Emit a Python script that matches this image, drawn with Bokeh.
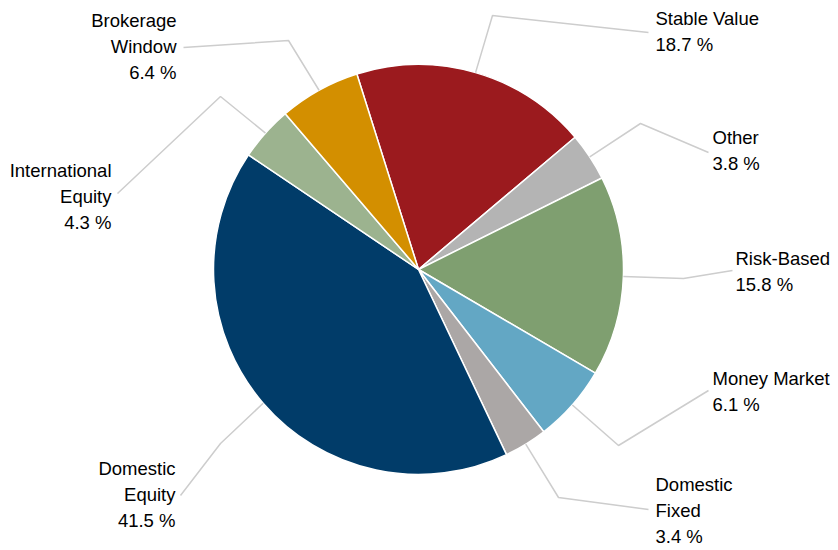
import numpy as np
from bokeh.plotting import figure
from bokeh.models import Range1d, ColumnDataSource
from bokeh.core.properties import value
from bokeh.embed import file_html
from bokeh.resources import INLINE

# ---- data ----
categories = ["Stable Value", "Other", "Risk-Based", "Money Market",
              "Domestic Fixed", "Domestic Equity", "International Equity",
              "Brokerage Window"]
label_names = ["Stable Value", "Other", "Risk-Based", "Money Market",
               "Domestic\nFixed", "Domestic\nEquity", "International\nEquity",
               "Brokerage\nWindow"]
shares = [18.7, 3.8, 15.8, 6.1, 3.4, 41.5, 4.3, 6.4]

# ---- styles / layout ----
colors = ["#9b1a1e", "#b4b4b4", "#7f9f70", "#63a7c4", "#aba7a6",
          "#013c69", "#9cb38f", "#d38f00"]
W, H = 838, 550
cx, cy, R = 418, H - 269, 205
start_deg = 107.5
# label anchor (x, first-line y in pixels from top, align), leader elbow and end (pixels from top)
label_pos = [(655, 18, "left"), (712, 137, "left"), (735, 258, "left"),
             (712, 378, "left"), (655, 484, "left"), (175, 468, "right"),
             (111, 170, "right"), (176, 20, "right")]
elbows = [(492, 15), (640, 123), (683, 278), (618, 445), (558, 497),
          (220, 443), (220, 96), (288, 40)]
ends = [(648, 32), (708, 152), (732, 270), (708, 390), (648, 509),
        (180, 495), (117, 193), (183, 47)]
line_h = 26
font = "Liberation Sans"
fsize = "18.5px"

vals = np.array(shares)
frac = vals / vals.sum()
cum = np.concatenate([[0], np.cumsum(frac)])
starts = np.radians(start_deg) - 2 * np.pi * cum[:-1]
ends_ang = np.radians(start_deg) - 2 * np.pi * cum[1:]
mids = (starts + ends_ang) / 2

p = figure(width=W, height=H, output_backend="svg", toolbar_location=None,
           x_range=Range1d(0, W), y_range=Range1d(0, H),
           min_border=0, min_border_left=0, min_border_right=0,
           min_border_top=0, min_border_bottom=0)
p.axis.visible = False
p.grid.visible = False
p.outline_line_color = None
p.background_fill_color = "white"
p.border_fill_color = "white"

src = ColumnDataSource(dict(start=starts, end=ends_ang, color=colors, cat=categories))
p.wedge(x=cx, y=cy, radius=R, start_angle="end", end_angle="start",
        fill_color="color", line_color="white", line_width=1.5, source=src)

# leader lines
xs, ys = [], []
for m, e1, e2 in zip(mids, elbows, ends):
    x0 = cx + R * np.cos(m)
    y0 = cy + R * np.sin(m)
    xs.append([x0, e1[0], e2[0]])
    ys.append([y0, H - e1[1], H - e2[1]])
p.multi_line(xs=xs, ys=ys, line_color="#cdcdcd", line_width=1.5)

# labels
tx, ty, tt, ta = [], [], [], []
for name, v, (lx, ly, al) in zip(label_names, shares, label_pos):
    lines = name.split("\n") + [f"{v} %"]
    for i, ln in enumerate(lines):
        tx.append(lx)
        ty.append(H - (ly + i * line_h))
        tt.append(ln)
        ta.append(al)
tsrc = ColumnDataSource(dict(x=tx, y=ty, text=tt, align=ta))
p.text(x="x", y="y", text="text", text_align="align", text_baseline="middle",
       text_font=value(font), text_font_size=fsize, text_color="#000000",
       source=tsrc)

open("out.html", "w").write(file_html(p, INLINE))
